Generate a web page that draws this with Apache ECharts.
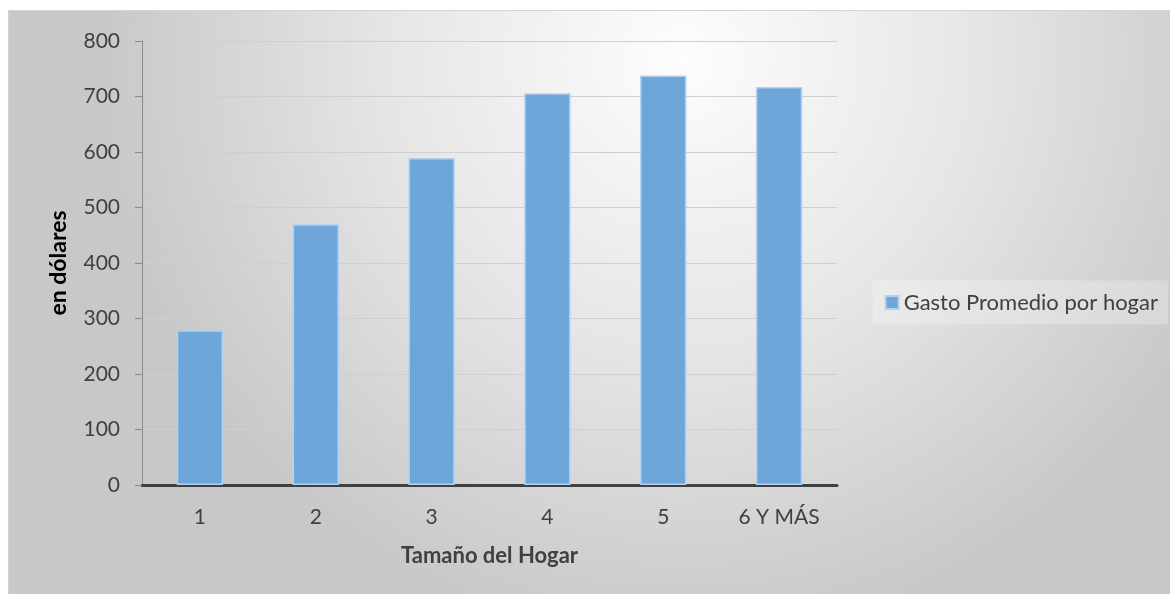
<!DOCTYPE html>
<html>
<head>
<meta charset="utf-8">
<script src="https://cdn.jsdelivr.net/npm/echarts@6/dist/echarts.min.js"></script>
<style>
  html, body { margin: 0; padding: 0; background: #ffffff; }
  #chart { position: absolute; left: 8px; top: 10px; width: 1162px; height: 584px; border-top: 1px solid #d4d4d4; border-left: 1px solid #d4d4d4; box-sizing: border-box; }
</style>
</head>
<body>
<div id="chart"></div>
<script>
// Household size categories and average spending per household (USD)
const categories = ['1', '2', '3', '4', '5', '6 Y MÁS'];
const gastoPromedio = [279, 470, 589, 706, 738, 717];
const seriesName = 'Gasto Promedio por hogar';
const yAxisName = 'en dólares';
const xAxisName = 'Tamaño del Hogar';

const chart = echarts.init(document.getElementById('chart'));
const font = 'Lato, "Open Sans", sans-serif';

chart.setOption({
  backgroundColor: {
    type: 'radial', x: 0.58, y: 0.08, r: 1.0,
    colorStops: [
      { offset: 0, color: '#fdfdfd' },
      { offset: 0.5, color: '#e6e6e6' },
      { offset: 1, color: '#c8c8c8' }
    ]
  },
  textStyle: { fontFamily: font },
  grid: { left: 133, top: 30, right: 333, bottom: 109 },
  legend: {
    right: 2, top: 'middle',
    padding: [11, 10, 11, 12],
    backgroundColor: 'rgba(255,255,255,0.25)',
    itemWidth: 13, itemHeight: 13, itemGap: 4,
    icon: 'rect',
    textStyle: { fontSize: 22, color: '#404040', fontFamily: font },
    data: [seriesName]
  },
  xAxis: {
    type: 'category',
    data: categories,
    name: xAxisName,
    nameLocation: 'middle',
    nameGap: 60,
    nameTextStyle: { fontSize: 22, fontWeight: 'bold', color: '#404040', fontFamily: font },
    axisLine: { lineStyle: { color: '#404040', width: 3 } },
    axisTick: { show: false },
    axisLabel: { fontSize: 21, color: '#404040', margin: 22, fontFamily: font }
  },
  yAxis: {
    type: 'value',
    min: 0, max: 800, interval: 100,
    name: yAxisName,
    nameLocation: 'middle',
    nameGap: 72,
    nameTextStyle: { fontSize: 23, fontWeight: 'bold', color: '#000000', fontFamily: font },
    axisLine: { show: true, lineStyle: { color: '#8a8a8a', width: 1 } },
    axisTick: { show: true, length: 7, lineStyle: { color: '#8a8a8a' } },
    axisLabel: { fontSize: 21, color: '#404040', margin: 22, fontFamily: font },
    splitLine: { lineStyle: { color: '#cfcfcf', width: 1 } }
  },
  series: [{
    name: seriesName,
    type: 'bar',
    data: gastoPromedio,
    barWidth: '40%',
    itemStyle: { color: '#6fa6da', borderColor: '#b3d0ee', borderWidth: 1.5 }
  }]
});
</script>
</body>
</html>
